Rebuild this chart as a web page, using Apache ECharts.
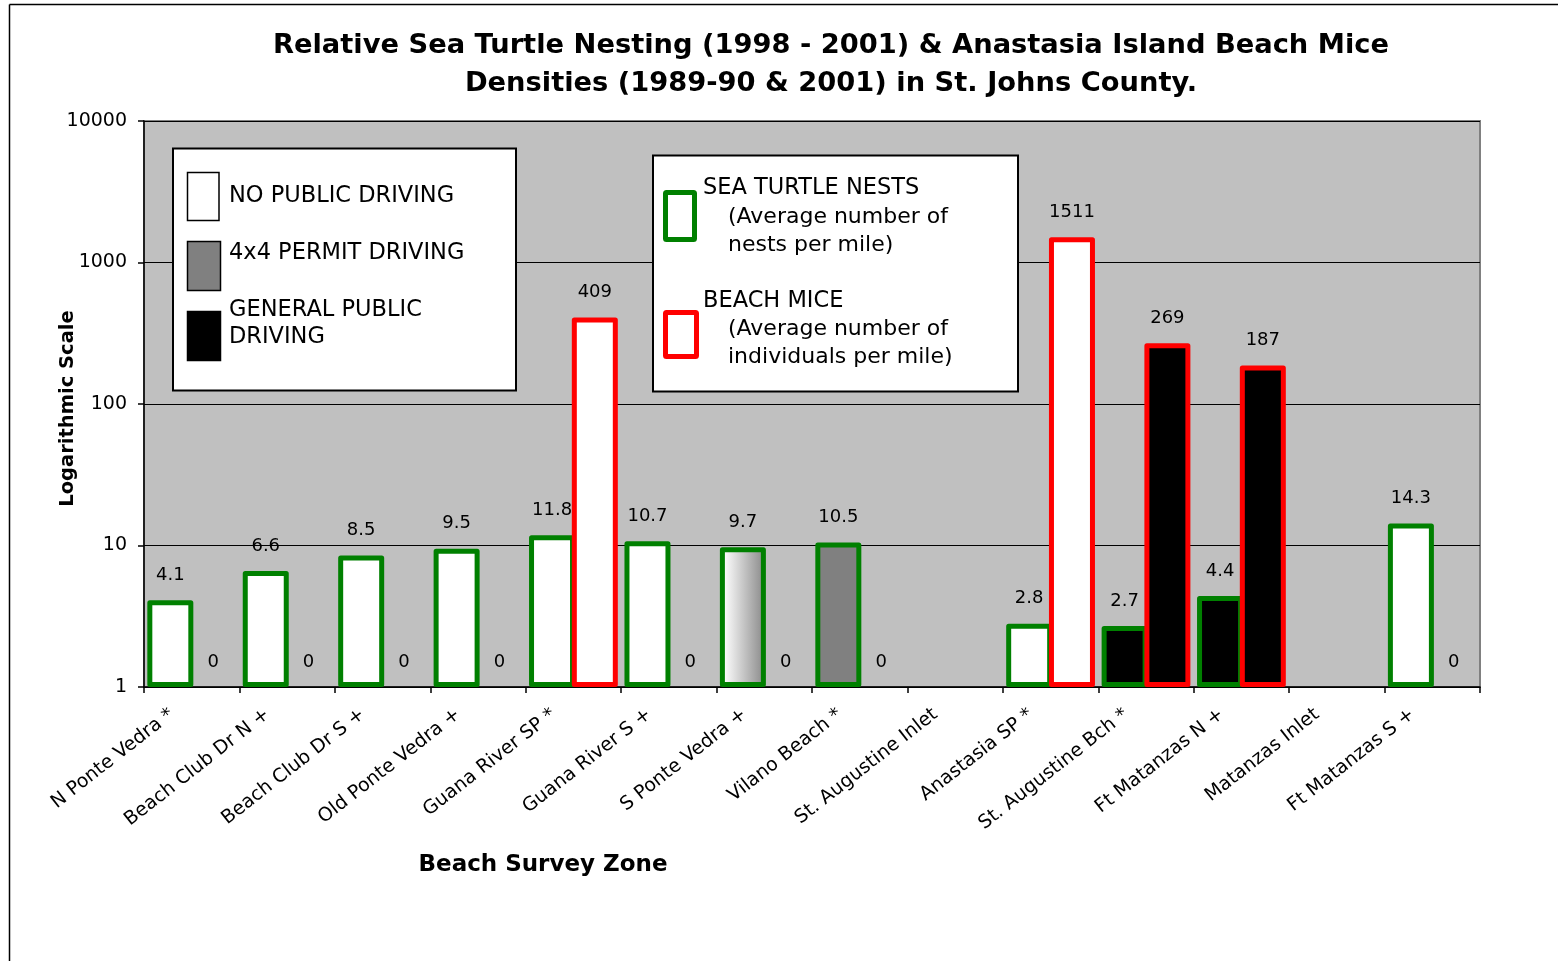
<!DOCTYPE html>
<html><head><meta charset="utf-8">
<script src="https://cdn.jsdelivr.net/npm/echarts@6/dist/echarts.min.js"></script>
<style>html,body{margin:0;padding:0;background:#fff}#chart{width:1558px;height:961px}</style>
</head><body><div id="chart"></div>
<script>
// ---- data ----
const categories = ['N Ponte Vedra *','Beach Club Dr N +','Beach Club Dr S +','Old Ponte Vedra +','Guana River SP *','Guana River S +','S Ponte Vedra +','Vilano Beach *','St. Augustine Inlet','Anastasia SP *','St. Augustine Bch *','Ft Matanzas N +','Matanzas Inlet','Ft Matanzas S +'];
const turtleNests = [4.1, 6.6, 8.5, 9.5, 11.8, 10.7, 9.7, 10.5, null, 2.8, 2.7, 4.4, null, 14.3];
const beachMice   = [0, 0, 0, 0, 409, 0, 0, 0, null, 1511, 269, 187, null, 0];
const drivingType = ['none','none','none','none','none','none','mixed','permit',null,'none','general','general',null,'none'];
const yTickValues = [1, 10, 100, 1000, 10000];

const FONT = 'DejaVu Sans';
const mixedFill = new echarts.graphic.LinearGradient(0, 0, 1, 0, [
  {offset: 0, color: '#ffffff'}, {offset: 0.12, color: '#fafafa'}, {offset: 1, color: '#858585'}
]);
function fillFor(t) {
  if (t === 'none') return '#ffffff';
  if (t === 'permit') return '#808080';
  if (t === 'general') return '#000000';
  if (t === 'mixed') return mixedFill;
  return 'transparent';
}

const turtleData = turtleNests.map((v, i) => v == null ? '-' : {
  value: v, itemStyle: {color: fillFor(drivingType[i])}
});
const miceData = beachMice.map((v, i) => {
  if (v == null) return '-';
  if (v === 0) return {value: yTickValues[0], itemStyle: {color: 'transparent', borderColor: 'transparent', borderWidth: 0}};
  return {value: v, itemStyle: {color: fillFor(drivingType[i])}};
});

const labelStyle = {show: true, position: 'top', distance: 16, fontFamily: FONT, fontSize: 18, color: '#000'};

const chart = echarts.init(document.getElementById('chart'), null, {renderer: 'canvas'});
chart.setOption({
  backgroundColor: '#ffffff',
  animation: false,
  grid: {left: 144, top: 121, width: 1336, height: 566, show: true, backgroundColor: '#c0c0c0',
         borderColor: '#808080', borderWidth: 2, containLabel: false, outerBoundsMode: 'none'},
  xAxis: {
    type: 'category', data: categories, boundaryGap: true,
    axisLine: {show: true, lineStyle: {color: '#000', width: 1.5}},
    axisTick: {show: true, interval: 0, length: 6, lineStyle: {color: '#000', width: 1.5}},
    axisLabel: {interval: 0, rotate: 38, margin: 10, padding: [0, 25, 32, 0],
                fontFamily: FONT, fontSize: 19, color: '#000'},
    splitLine: {show: false}
  },
  yAxis: {
    type: 'log', logBase: 10, min: yTickValues[0], max: yTickValues[yTickValues.length - 1],
    name: 'Logarithmic Scale', nameLocation: 'middle', nameRotate: 90, nameGap: 66, nameMoveOverlap: false,
    nameTextStyle: {fontFamily: FONT, fontWeight: 'bold', fontSize: 19.5, color: '#000', padding: [0, 9, 0, 0]},
    axisLine: {show: true, lineStyle: {color: '#000', width: 1.5}},
    axisTick: {show: true, length: 6, lineStyle: {color: '#000', width: 1.5}},
    axisLabel: {margin: 17, fontFamily: FONT, fontSize: 19, color: '#000',
                formatter: v => String(Math.round(v))},
    splitLine: {show: true, lineStyle: {color: '#000', width: 1}}
  },
  series: [
    {name: 'Sea Turtle Nests', type: 'bar', data: turtleData, barWidth: 46, barGap: '-7%',
     itemStyle: {borderColor: '#008000', borderWidth: 5, borderJoin: 'round'},
     label: Object.assign({}, labelStyle, {formatter: p => String(turtleNests[p.dataIndex])}),
     z: 2},
    {name: 'Beach Mice', type: 'bar', data: miceData, barWidth: 46, barGap: '-7%',
     itemStyle: {borderColor: '#ff0000', borderWidth: 5, borderJoin: 'round'},
     label: Object.assign({}, labelStyle, {formatter: p => String(beachMice[p.dataIndex])}),
     z: 3}
  ],
  graphic: [
    // outer frame
    {type: 'line', z: 100, shape: {x1: 9.5, y1: 4.5, x2: 1558, y2: 4.5}, style: {stroke: '#000', lineWidth: 1.5}},
    {type: 'line', z: 100, shape: {x1: 9.5, y1: 4.5, x2: 9.5, y2: 961}, style: {stroke: '#000', lineWidth: 1.5}},
    // title
    {type: 'text', z: 100, x: 831, y: 27, style: {
      text: 'Relative Sea Turtle Nesting (1998 - 2001) & Anastasia Island Beach Mice\nDensities (1989-90 & 2001) in St. Johns County.',
      fontFamily: FONT, fontWeight: 'bold', fontSize: 27.3, lineHeight: 38, align: 'center', verticalAlign: 'top', fill: '#000'}},
    // x axis name
    {type: 'text', z: 100, x: 543, y: 865, style: {text: 'Beach Survey Zone', fontFamily: FONT, fontWeight: 'bold',
      fontSize: 23, align: 'center', verticalAlign: 'middle', fill: '#000'}},
    // driving legend box
    {type: 'rect', z: 100, shape: {x: 173, y: 148.5, width: 343, height: 242}, style: {fill: '#fff', stroke: '#000', lineWidth: 2}},
    {type: 'rect', z: 101, shape: {x: 187.5, y: 172.5, width: 31.5, height: 48}, style: {fill: '#fff', stroke: '#000', lineWidth: 1.5}},
    {type: 'rect', z: 101, shape: {x: 187.5, y: 241.5, width: 33, height: 49}, style: {fill: '#808080', stroke: '#000', lineWidth: 1.5}},
    {type: 'rect', z: 101, shape: {x: 187.5, y: 311.5, width: 33, height: 49}, style: {fill: '#000', stroke: '#000', lineWidth: 1.5}},
    {type: 'text', z: 101, x: 229, y: 196, style: {text: 'NO PUBLIC DRIVING', fontFamily: FONT, fontSize: 22.5, verticalAlign: 'middle', fill: '#000'}},
    {type: 'text', z: 101, x: 229, y: 253, style: {text: '4x4 PERMIT DRIVING', fontFamily: FONT, fontSize: 22.5, verticalAlign: 'middle', fill: '#000'}},
    {type: 'text', z: 101, x: 229, y: 310, style: {text: 'GENERAL PUBLIC', fontFamily: FONT, fontSize: 22.5, verticalAlign: 'middle', fill: '#000'}},
    {type: 'text', z: 101, x: 229, y: 337, style: {text: 'DRIVING', fontFamily: FONT, fontSize: 22.5, verticalAlign: 'middle', fill: '#000'}},
    // series legend box
    {type: 'rect', z: 100, shape: {x: 653, y: 155.5, width: 365, height: 236}, style: {fill: '#fff', stroke: '#000', lineWidth: 2}},
    {type: 'rect', z: 101, shape: {x: 665.5, y: 192.5, width: 29, height: 47, r: 1}, style: {fill: '#fff', stroke: '#008000', lineWidth: 5, lineJoin: 'round'}},
    {type: 'rect', z: 101, shape: {x: 665.5, y: 312.5, width: 31, height: 44, r: 1}, style: {fill: '#fff', stroke: '#ff0000', lineWidth: 5, lineJoin: 'round'}},
    {type: 'text', z: 101, x: 703, y: 188, style: {text: 'SEA TURTLE NESTS', fontFamily: FONT, fontSize: 22.5, verticalAlign: 'middle', fill: '#000'}},
    {type: 'text', z: 101, x: 728, y: 217, style: {text: '(Average number of', fontFamily: FONT, fontSize: 22, verticalAlign: 'middle', fill: '#000'}},
    {type: 'text', z: 101, x: 728, y: 245, style: {text: 'nests per mile)', fontFamily: FONT, fontSize: 22, verticalAlign: 'middle', fill: '#000'}},
    {type: 'text', z: 101, x: 703, y: 301, style: {text: 'BEACH MICE', fontFamily: FONT, fontSize: 22.5, verticalAlign: 'middle', fill: '#000'}},
    {type: 'text', z: 101, x: 728, y: 329, style: {text: '(Average number of', fontFamily: FONT, fontSize: 22, verticalAlign: 'middle', fill: '#000'}},
    {type: 'text', z: 101, x: 728, y: 357, style: {text: 'individuals per mile)', fontFamily: FONT, fontSize: 22, verticalAlign: 'middle', fill: '#000'}}
  ]
});
</script>
</body></html>
